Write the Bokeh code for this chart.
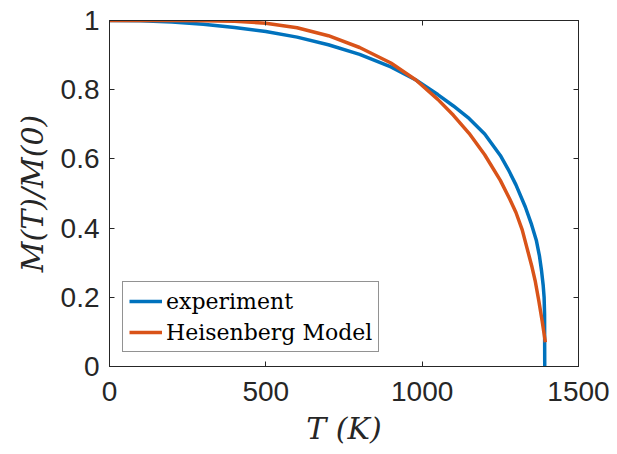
from bokeh.plotting import figure
from bokeh.models import LinearAxis, FixedTicker
from bokeh.embed import file_html
from bokeh.resources import INLINE

# ---- data ----
T_exp = [0, 100, 200, 300, 400, 500, 600, 700, 800, 900, 980, 1050, 1100, 1150,
         1200, 1250, 1275, 1300, 1330, 1350, 1365, 1375, 1382, 1387, 1390,
         1391.5, 1392]
M_exp = [1.0, 0.999, 0.996, 0.989, 0.980, 0.968, 0.952, 0.930, 0.902, 0.866, 0.828,
         0.786, 0.753, 0.717, 0.672, 0.610, 0.570, 0.525, 0.461, 0.41, 0.365,
         0.32, 0.275, 0.235, 0.20, 0.15, 0.0]

T_heis = [0, 100, 200, 300, 400, 500, 600, 700, 800, 900, 980, 1050, 1100, 1150,
          1200, 1250, 1280, 1300, 1320, 1336, 1350, 1362, 1373, 1384, 1394]
M_heis = [1.0, 1.0, 1.0, 0.9995, 0.998, 0.992, 0.979, 0.956, 0.922, 0.877, 0.828,
          0.772, 0.726, 0.674, 0.612, 0.538, 0.484, 0.445, 0.395, 0.340, 0.292,
          0.245, 0.19, 0.13, 0.07]

series_names = ["experiment", "Heisenberg Model"]
x_ticks = [0, 500, 1000, 1500]
x_tick_labels = ["0", "500", "1000", "1500"]
y_ticks = [0, 0.2, 0.4, 0.6, 0.8, 1.0]
y_tick_labels = ["0", "0.2", "0.4", "0.6", "0.8", "1"]
x_label = "T (K)"
y_label = "M(T)/M(0)"

AX = "#262626"
BLUE = "#0072BD"
ORANGE = "#D95319"

p = figure(frame_width=469, frame_height=346, x_range=(0, 1500), y_range=(0, 1),
           output_backend="svg", toolbar_location=None,
           min_border_left=109, min_border_top=20, min_border_right=38,
           min_border_bottom=86, background_fill_color="white",
           border_fill_color="white")
p.xgrid.visible = False
p.ygrid.visible = False
p.outline_line_color = AX
p.outline_line_width = 1

def style_axis(ax, ticks, labels, show_labels=True):
    ax.ticker = FixedTicker(ticks=ticks)
    ax.major_label_overrides = {t: l for t, l in zip(ticks, labels)}
    ax.axis_line_color = AX
    ax.major_tick_line_color = AX
    ax.major_tick_in = 5
    ax.major_tick_out = 0
    ax.minor_tick_line_color = None
    ax.major_label_text_font = "Liberation Sans"
    ax.major_label_text_font_size = "28px"
    ax.major_label_text_color = AX if show_labels else None
    ax.axis_label_text_font = "DejaVu Serif"
    ax.axis_label_text_font_style = "italic"
    ax.axis_label_text_font_size = "30px"
    ax.axis_label_text_color = AX

xa, ya = p.xaxis[0], p.yaxis[0]
style_axis(xa, x_ticks, x_tick_labels)
style_axis(ya, y_ticks, y_tick_labels)
xa.major_label_standoff = 15
ya.major_label_standoff = 10
xa.axis_label = x_label
ya.axis_label = y_label
xa.axis_label_standoff = 7
ya.axis_label_standoff = 8

top = LinearAxis()
right = LinearAxis()
style_axis(top, x_ticks, x_tick_labels, show_labels=False)
style_axis(right, y_ticks, y_tick_labels, show_labels=False)
p.add_layout(top, "above")
p.add_layout(right, "right")

p.line(T_exp, M_exp, line_color=BLUE, line_width=3.5, legend_label=series_names[0])
p.line(T_heis, M_heis, line_color=ORANGE, line_width=3.5, legend_label=series_names[1])

lg = p.legend[0]
lg.location = (13, 14)
lg.margin = 0
lg.padding = 6
lg.spacing = 5
lg.glyph_width = 33
lg.glyph_height = 26
lg.label_height = 26
lg.label_standoff = 4
lg.label_text_font = "DejaVu Serif"
lg.label_text_font_size = "22px"
lg.label_text_color = "black"
lg.border_line_color = AX
lg.border_line_width = 1
lg.background_fill_alpha = 1

open("out.html", "w").write(file_html(p, INLINE))
